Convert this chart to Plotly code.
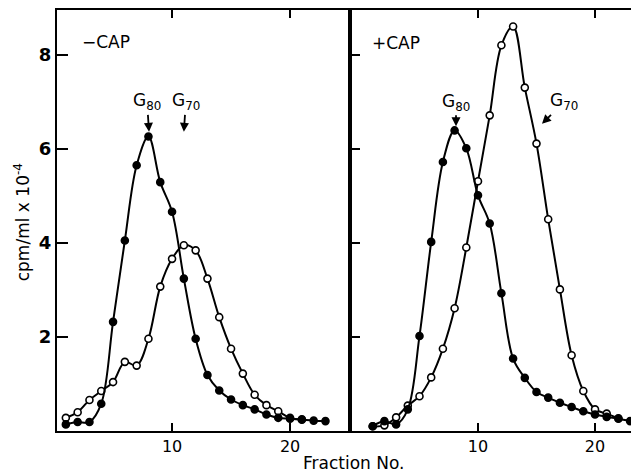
import plotly.graph_objects as go

fractions_left = list(range(1, 24))
minus_cap_g80 = [0.14, 0.19, 0.19, 0.58, 2.32, 4.05, 5.65, 6.26, 5.29, 4.66, 3.24, 1.96,
                 1.19, 0.86, 0.67, 0.55, 0.46, 0.35, 0.28, 0.26, 0.24, 0.22, 0.21]
fractions_left_open = list(range(1, 22))
minus_cap_g70 = [0.28, 0.40, 0.66, 0.85, 1.04, 1.47, 1.39, 1.96, 3.07, 3.66, 3.95, 3.84,
                 3.24, 2.42, 1.75, 1.22, 0.77, 0.55, 0.42, 0.28, 0.25]

fractions_right = list(range(1, 24))
plus_cap_g80 = [0.10, 0.21, 0.14, 0.46, 2.02, 4.02, 5.72, 6.39, 6.01, 5.01, 4.41, 2.93,
                1.54, 1.13, 0.83, 0.71, 0.60, 0.51, 0.42, 0.35, 0.30, 0.26, 0.21]
fractions_right_open = list(range(1, 23))
plus_cap_g70 = [0.10, 0.12, 0.29, 0.54, 0.74, 1.14, 1.75, 2.61, 3.90, 5.31, 6.71, 8.20,
                8.60, 7.30, 6.11, 4.50, 3.01, 1.61, 0.85, 0.46, 0.37, 0.27]

y_ticks = [2, 4, 6, 8]
x_ticks = [10, 20]

FONT = "DejaVu Sans"
fig = go.Figure()

def add_series(x, y, xa, ya, filled):
    fig.add_trace(go.Scatter(
        x=x, y=y, xaxis=xa, yaxis=ya, mode="lines+markers",
        line=dict(color="black", width=2, shape="spline", smoothing=1),
        marker=dict(size=7,
                    color="black" if filled else "white",
                    line=dict(color="black", width=1.6)),
        showlegend=False, hoverinfo="skip"))

add_series(fractions_left_open, minus_cap_g70, "x", "y", False)
add_series(fractions_left, minus_cap_g80, "x", "y", True)
add_series(fractions_right_open, plus_cap_g70, "x2", "y2", False)
add_series(fractions_right, plus_cap_g80, "x2", "y2", True)

split = 293 / 582
axis_common = dict(showgrid=False, zeroline=False, showline=True, linecolor="black",
                   linewidth=2, ticks="inside", tickcolor="black", tickwidth=2)

fig.update_layout(
    width=631, height=466,
    margin=dict(l=49, r=0, t=2, b=43),
    paper_bgcolor="white", plot_bgcolor="white",
    font=dict(family=FONT, color="black"),
    xaxis=dict(domain=[0, split], range=[0.25, 25.08], tickvals=x_ticks,
               ticklen=8, mirror="ticks", tickfont=dict(size=16), **axis_common),
    xaxis2=dict(domain=[split, 1], range=[-0.94, 23.76], tickvals=x_ticks,
                ticklen=8, mirror="ticks", tickfont=dict(size=16), anchor="y2",
                **axis_common),
    yaxis=dict(domain=[0, 1], range=[0, 8.95], tickvals=y_ticks, ticklen=11,
               mirror=True, tickfont=dict(size=18, weight="bold"), **axis_common),
    yaxis2=dict(domain=[0, 1], range=[0, 8.95], tickvals=y_ticks, ticklen=10,
                showticklabels=False, anchor="x2", **axis_common),
)

ann = []
ann.append(dict(xref="paper", yref="paper", x=-0.060, y=0.496, text="cpm/ml x 10<sup>-4</sup>",
                textangle=-90, showarrow=False, font=dict(size=17), xanchor="center",
                yanchor="middle"))
ann.append(dict(xref="paper", yref="paper", x=0.51, y=-0.076, text="Fraction No.",
                showarrow=False, font=dict(size=17), xanchor="center", yanchor="middle"))
ann.append(dict(xref="paper", yref="paper", x=0.0395, y=0.924, text="\u2212CAP",
                showarrow=False, font=dict(size=17), xanchor="left", yanchor="middle"))
ann.append(dict(xref="paper", yref="paper", x=0.538, y=0.922, text="+CAP",
                showarrow=False, font=dict(size=17), xanchor="left", yanchor="middle"))

arrow_common = dict(showarrow=True, arrowhead=2, arrowsize=1, arrowwidth=1.8,
                    arrowcolor="black", font=dict(size=17))
ann.append(dict(xref="x", yref="y", x=8.05, y=6.36, ax=-2, ay=-30,
                text="G<sub>80</sub>", **arrow_common))
ann.append(dict(xref="x", yref="y", x=11.0, y=6.36, ax=2, ay=-30,
                text="G<sub>70</sub>", **arrow_common))
ann.append(dict(xref="x2", yref="y2", x=8.12, y=6.48, ax=0, ay=-24,
                text="G<sub>80</sub>", **arrow_common))
ann.append(dict(xref="x2", yref="y2", x=15.47, y=6.53, ax=22, ay=-22,
                text="G<sub>70</sub>", **arrow_common))
fig.update_layout(annotations=ann)

fig.write_html("out.html")
